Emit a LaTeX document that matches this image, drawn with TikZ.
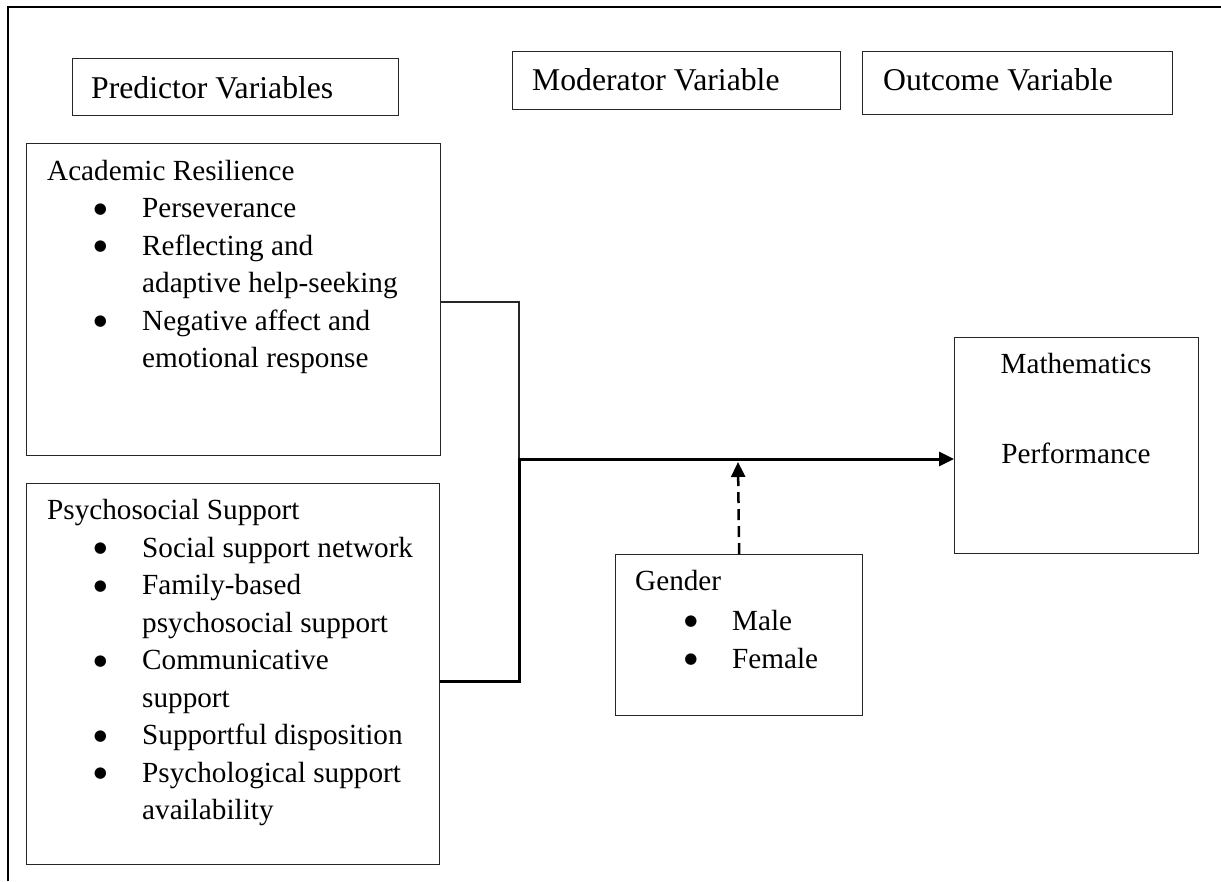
\documentclass[tikz,border=0pt]{standalone}
\usepackage{fontspec}
\setmainfont{Liberation Serif}
\newfontfamily\bulletfont{DejaVu Sans}
\usetikzlibrary{arrows.meta}
\begin{document}
\begin{tikzpicture}[x=1pt,y=-1pt,
  box/.style={draw=black!85, line width=1.3pt, rectangle, inner sep=0pt, anchor=north west},
  hdr/.style={anchor=base west, inner sep=0pt, font=\fontsize{31.7}{38}\selectfont},
  txt/.style={anchor=base west, inner sep=0pt, font=\fontsize{29.2}{37.5}\selectfont},
  ctxt/.style={anchor=base, inner sep=0pt, font=\fontsize{29.2}{37.5}\selectfont},
  bul/.style={anchor=center, inner sep=0pt, font=\bulletfont\fontsize{15}{15}\selectfont},
  link/.style={line width=1.3pt, draw=black!85},
  mainlink/.style={line width=3pt, line join=miter, -{Triangle[length=15pt,width=14pt]}},
  modlink/.style={line width=2.5pt, dash pattern=on 11pt off 6pt, -{Triangle[length=15pt,width=14pt]}},
  ]
\useasboundingbox (0,0) rectangle (1221,881);
% outer frame (top and left only)
\draw[line width=2pt] (8,881) -- (8,7) -- (1221,7);

% header boxes
\node[box, minimum width=326pt, minimum height=57pt] (pred) at (72,58) {};
\node[hdr] (predt) at (91,98) {Predictor Variables};
\node[box, minimum width=328pt, minimum height=58pt] (mod) at (512,51) {};
\node[hdr] (modt) at (532,90) {Moderator Variable};
\node[box, minimum width=310pt, minimum height=63pt] (out) at (862,51) {};
\node[hdr] (outt) at (883,90) {Outcome Variable};

% Academic Resilience
\node[box, minimum width=414pt, minimum height=312pt] (ar) at (26,143) {};
\node[txt] (ar0) at (47,180) {Academic Resilience};
\node[bul] (arb1) at (100.5,209.5) {●};
\node[txt] (ar1) at (142,217.5) {Perseverance};
\node[bul] (arb2) at (100.5,247) {●};
\node[txt] (ar2) at (142,255) {Reflecting and};
\node[txt] (ar3) at (142,292.5) {adaptive help-seeking};
\node[bul] (arb4) at (100.5,322) {●};
\node[txt] (ar4) at (142,330) {Negative affect and};
\node[txt] (ar5) at (142,367.5) {emotional response};

% Psychosocial Support
\node[box, minimum width=413pt, minimum height=381pt] (ps) at (26,483) {};
\node[txt] (ps0) at (47,519) {Psychosocial Support};
\node[bul] (psb1) at (100.5,549) {●};
\node[txt] (ps1) at (142,557) {Social support network};
\node[bul] (psb2) at (100.5,586.5) {●};
\node[txt] (ps2) at (142,594.5) {Family-based};
\node[txt] (ps3) at (142,632) {psychosocial support};
\node[bul] (psb4) at (100.5,661.5) {●};
\node[txt] (ps4) at (142,669.5) {Communicative};
\node[txt] (ps5) at (142,707) {support};
\node[bul] (psb6) at (100.5,736.5) {●};
\node[txt] (ps6) at (142,744.5) {Supportful disposition};
\node[bul] (psb7) at (100.5,774) {●};
\node[txt] (ps7) at (142,782) {Psychological support};
\node[txt] (ps8) at (142,819.5) {availability};

% Mathematics Performance
\node[box, minimum width=244pt, minimum height=216pt] (math) at (954,337) {};
\node[ctxt] (m1) at (1076,373) {Mathematics};
\node[ctxt] (m2) at (1076,463) {Performance};

% Gender
\node[box, minimum width=247pt, minimum height=161pt] (gender) at (615,554) {};
\node[txt] (g0) at (635,590) {Gender};
\node[bul] (gb1) at (691,622) {●};
\node[txt] (g1) at (732,630) {Male};
\node[bul] (gb2) at (691,660) {●};
\node[txt] (g2) at (732,668) {Female};

% connectors
\coordinate (ka) at (519,302);
\coordinate (ja) at (519,459);
\coordinate (jb) at (519,681);
\coordinate (dt) at (738,462);
\draw[link] (ka -| ar.east) -- (ka) -- (ja);
\draw[mainlink] (jb -| ps.east) -- (jb) -- (ja) -- (ja -| math.west);
\draw[modlink] (gender.north) -- (dt);
\end{tikzpicture}
\end{document}
